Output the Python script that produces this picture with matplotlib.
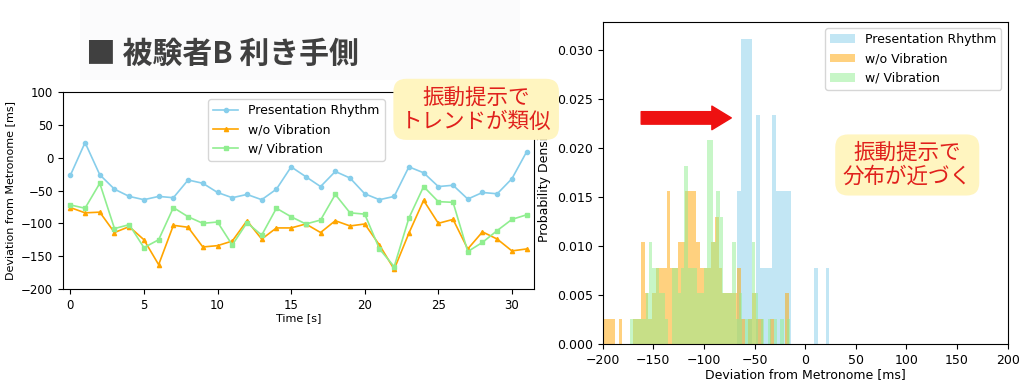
import numpy as np
import matplotlib
matplotlib.use('Agg')
import matplotlib.pyplot as plt
from matplotlib.patches import Rectangle

plt.rcParams['font.family'] = ['DejaVu Sans', 'Noto Sans CJK JP']

# --- datos del grafico de lineas (desvio por segundo) ---
time_s = list(range(32))
presentation = [-27, 23, -26, -48, -59, -64, -59, -61, -34, -39, -53, -61, -56, -64, -48, -14,
                -29, -44, -21, -31, -55, -64, -59, -14, -23, -44, -42, -63, -53, -55, -32, 9]
wo_vibration = [-76, -84, -83, -114, -105, -125, -163, -103, -106, -136, -134, -127, -96, -124, -107, -107,
                -101, -114, -96, -104, -101, -133, -170, -115, -65, -100, -94, -139, -113, -124, -142, -139]
w_vibration = [-72, -77, -39, -108, -102, -137, -125, -76, -90, -100, -98, -133, -99, -118, -77, -90,
               -101, -95, -56, -84, -86, -139, -166, -92, -44, -67, -68, -143, -129, -111, -94, -87]

# --- histogramas: inicio de bins, ancho y cuentas por bin ---
blue_start, blue_width = -67.3, 3.8
blue_counts = [2, 4, 4, 4, 0, 3, 1, 1, 1, 3, 2, 2, 2, 2, 0, 0, 0, 0, 0, 0, 1, 0, 0, 1]
blue_unit = 0.0078

orange_start, orange_width = -199.0, 3.66
orange_counts = [1, 1, 1, 0, 1, 0, 0, 0, 1, 1,
                 4, 2, 1, 2, 3, 3, 3, 6, 3, 3,
                 4, 4, 6, 6, 6, 4, 3, 3, 3, 4,
                 5, 3, 2, 2, 2, 2, 3, 1, 0, 1,
                 2, 1, 1, 0, 0, 1, 0, 0, 0, 2]
green_start, green_width = -173.0, 3.16
green_counts = [1, 1, 1, 1, 1, 2, 4, 3, 3, 2,
                2, 1, 0, 3, 3, 2, 3, 7, 3, 3,
                3, 2, 2, 3, 8, 8, 4, 6, 5, 2,
                2, 2, 4, 1, 2, 0, 1, 1, 4, 2,
                0, 1, 0, 1, 0, 1, 0, 1, 0, 1]
tap_unit = 0.0026

labels = ['Presentation Rhythm', 'w/o Vibration', 'w/ Vibration']
colors = ['skyblue', 'orange', 'lightgreen']

fig = plt.figure(figsize=(10.24, 3.81), dpi=100)

# fondo casi blanco del slide
fig.patches.append(Rectangle((0.078, 0.79), 0.43, 0.21, transform=fig.transFigure,
                             facecolor='#fbfbfc', edgecolor='none', zorder=0))

# titulo
fig.text(0.084, 0.858, '■ 被験者B 利き手側', family=['Noto Sans CJK JP'], weight='bold',
         fontsize=21.5, color='#404040', va='center', ha='left')

# ---- grafico izquierdo ----
ax1 = fig.add_axes([0.0615, 0.2415, 0.46, 0.517])
ax1.plot(time_s, presentation, color=colors[0], marker='o', markersize=3, lw=1.2, label=labels[0])
ax1.plot(time_s, wo_vibration, color=colors[1], marker='^', markersize=3, lw=1.2, label=labels[1])
ax1.plot(time_s, w_vibration, color=colors[2], marker='s', markersize=3, lw=1.2, label=labels[2])
ax1.set_xlim(-0.5, 31.5)
ax1.set_ylim(-200, 100)
ax1.set_xticks([0, 5, 10, 15, 20, 25, 30])
ax1.set_yticks([-200, -150, -100, -50, 0, 50, 100])
ax1.tick_params(labelsize=8.5)
ax1.set_xlabel('Time [s]', fontsize=8, labelpad=1)
ax1.set_ylabel('Deviation from Metronome [ms]', fontsize=8)
ax1.legend(loc='upper left', bbox_to_anchor=(0.295, 0.995), fontsize=9)

# ---- histograma derecho ----
ax2 = fig.add_axes([0.5886, 0.0971, 0.3955, 0.8452])
for start, width, counts, unit, c, lab in [
        (blue_start, blue_width, blue_counts, blue_unit, colors[0], labels[0]),
        (orange_start, orange_width, orange_counts, tap_unit, colors[1], labels[1]),
        (green_start, green_width, green_counts, tap_unit, colors[2], labels[2])]:
    edges = start + width * np.arange(len(counts) + 1)
    centers = (edges[:-1] + edges[1:]) / 2
    ax2.hist(centers, bins=edges, weights=np.array(counts) * unit, color=c, alpha=0.5, label=lab)
ax2.set_xlim(-200, 200)
ax2.set_ylim(0, 0.0329)
ax2.tick_params(labelsize=9)
ax2.set_xlabel('Deviation from Metronome [ms]', fontsize=9, labelpad=1)
ax2.set_ylabel('Probability Density', fontsize=9)
ax2.legend(loc='upper right', fontsize=9)

# flecha roja
ax2.annotate('', xy=(-73, 0.0231), xytext=(-162, 0.0231),
             arrowprops=dict(arrowstyle='simple,head_length=1.4,head_width=1.7,tail_width=0.9',
                             color='#ee1111', mutation_scale=10, shrinkA=0, shrinkB=0))

# cuadros de comentario
box = dict(boxstyle='round,pad=0.35,rounding_size=0.6', facecolor='#fff5c0', edgecolor='none')
fig.text(0.465, 0.713, '振動提示で\nトレンドが類似', family=['Noto Sans CJK JP'], fontsize=15.5,
         color='#e0201c', ha='center', va='center', linespacing=1.12, bbox=box, zorder=10)
fig.text(0.886, 0.567, '振動提示で\n分布が近づく', family=['Noto Sans CJK JP'], fontsize=15.5,
         color='#e0201c', ha='center', va='center', linespacing=1.12, bbox=box, zorder=10)

fig.savefig('out.png', dpi=100)
plt.close(fig)
